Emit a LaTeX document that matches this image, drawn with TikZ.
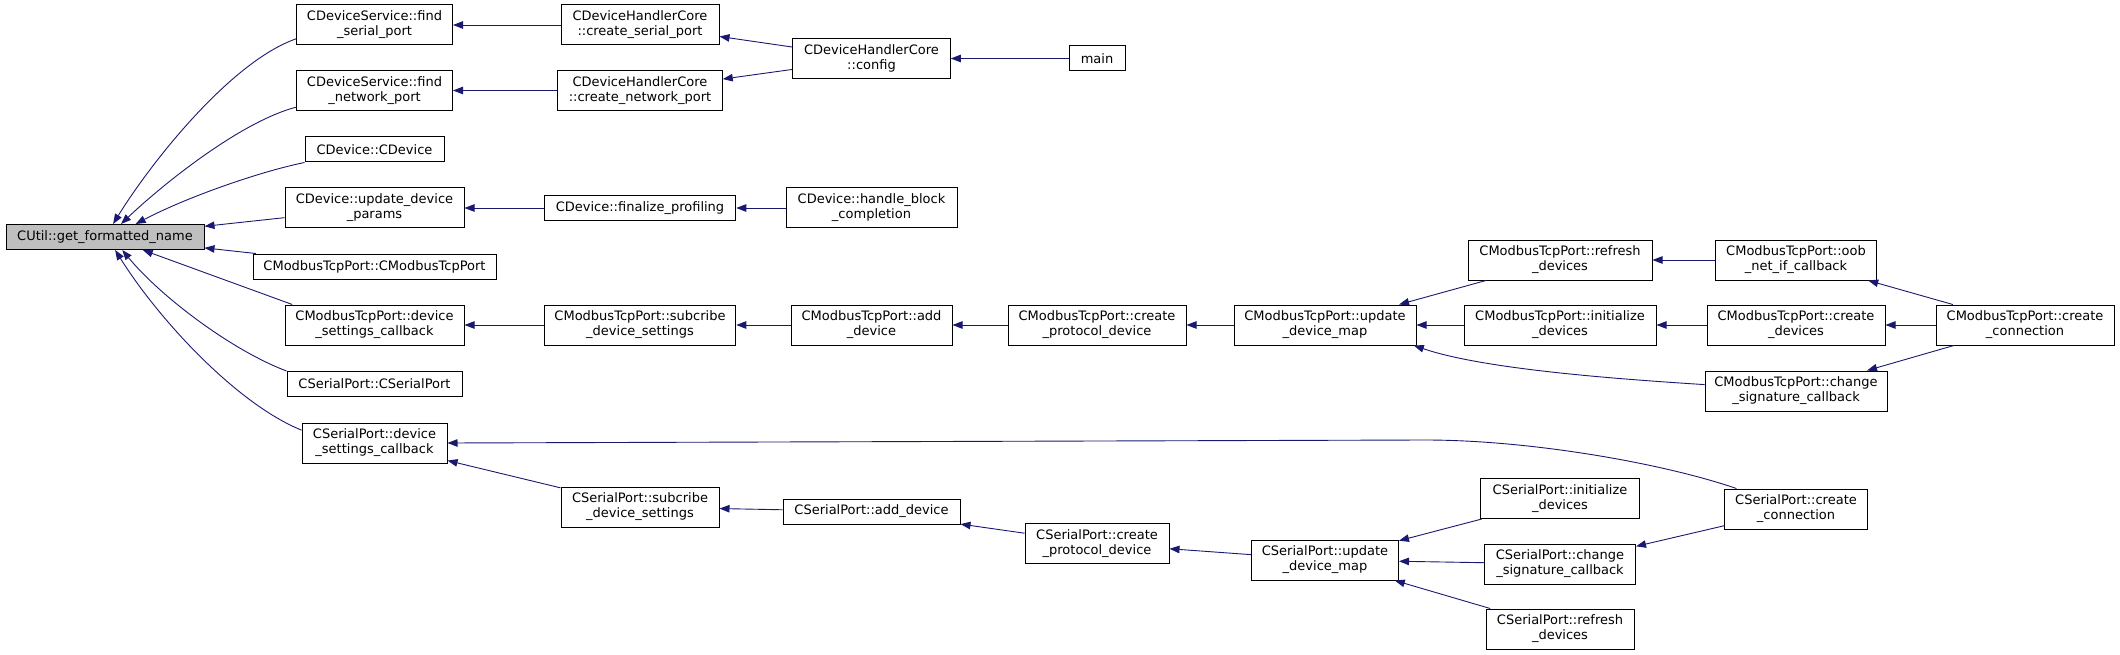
\documentclass[tikz,border=0pt]{standalone}
\usepackage{fontspec}
\setmainfont{DejaVu Sans}
\usetikzlibrary{arrows.meta}
\definecolor{edgeblue}{HTML}{191970}
\tikzstyle{func} = [rectangle, draw=black, line width=1pt, fill=white, minimum height=25pt, inner xsep=4pt, inner ysep=2pt, text centered, align=center, font=\fontsize{13}{15}\selectfont]
\tikzstyle{func2} = [func, minimum height=40pt]
\tikzstyle{focus} = [func, fill=gray!50]
\tikzstyle{arrow} = [draw=edgeblue, line width=0.9pt, -{Triangle[length=10pt,width=7.5pt]}]

\begin{document}
\begin{tikzpicture}[x=1pt, y=-1pt]
        \useasboundingbox (0,0) rectangle (2120,655);

        \node[focus, minimum width=198pt]   (cutil) at (105,237)    {CUtil::get\_formatted\_name};

        \node[func2, minimum width=156pt]   (fsp)   at (374.5,25)   {CDeviceService::find\\\_serial\_port};
        \node[func2, minimum width=156pt]   (fnp)   at (374.5,90.5) {CDeviceService::find\\\_network\_port};
        \node[func,  minimum width=139pt]   (cdev)  at (374.5,149.5){CDevice::CDevice};
        \node[func2, minimum width=179pt]   (udp)   at (374.5,208)  {CDevice::update\_device\\\_params};
        \node[func,  minimum width=243pt]   (mctor) at (374.5,266.5){CModbusTcpPort::CModbusTcpPort};
        \node[func2, minimum width=179pt]   (mdsc)  at (374.5,325)  {CModbusTcpPort::device\\\_settings\_callback};
        \node[func,  minimum width=175pt]   (sctor) at (374.5,384)  {CSerialPort::CSerialPort};
        \node[func2, minimum width=145pt]   (sdsc)  at (374.5,443)  {CSerialPort::device\\\_settings\_callback};

        \node[func2, minimum width=158pt]   (csp)   at (640,25)     {CDeviceHandlerCore\\::create\_serial\_port};
        \node[func2, minimum width=164.5pt] (cnp)   at (640,90.5)   {CDeviceHandlerCore\\::create\_network\_port};
        \node[func,  minimum width=191.5pt] (fin)   at (640,208)    {CDevice::finalize\_profiling};
        \node[func2, minimum width=191.5pt] (msub)  at (640,325)    {CModbusTcpPort::subcribe\\\_device\_settings};
        \node[func2, minimum width=158pt]   (ssub)  at (640,507)    {CSerialPort::subcribe\\\_device\_settings};

        \node[func2, minimum width=157.5pt] (config) at (871.5,58.5){CDeviceHandlerCore\\::config};
        \node[func2, minimum width=171pt]   (hbc)   at (871.5,208)  {CDevice::handle\_block\\\_completion};
        \node[func2, minimum width=161pt]   (madd)  at (871.5,325)  {CModbusTcpPort::add\\\_device};
        \node[func,  minimum width=177pt]   (sadd)  at (871.5,511.5){CSerialPort::add\_device};

        \node[func,  minimum width=56pt]    (main)  at (1097,58.5)  {main};
        \node[func2, minimum width=178pt]   (mcpd)  at (1097,325)   {CModbusTcpPort::create\\\_protocol\_device};
        \node[func2, minimum width=144pt]   (scpd)  at (1097,543.5) {CSerialPort::create\\\_protocol\_device};

        \node[func2, minimum width=182pt]   (mudm)  at (1325,325)   {CModbusTcpPort::update\\\_device\_map};
        \node[func2, minimum width=147pt]   (sudm)  at (1325,560)   {CSerialPort::update\\\_device\_map};

        \node[func2, minimum width=184pt]   (mref)  at (1560,260)   {CModbusTcpPort::refresh\\\_devices};
        \node[func2, minimum width=192pt]   (minit) at (1560,325)   {CModbusTcpPort::initialize\\\_devices};
        \node[func2, minimum width=158.5pt] (sinit) at (1560,498.5) {CSerialPort::initialize\\\_devices};
        \node[func2, minimum width=151pt]   (schg)  at (1560,564)   {CSerialPort::change\\\_signature\_callback};
        \node[func2, minimum width=148pt]   (sref)  at (1560,629)   {CSerialPort::refresh\\\_devices};

        \node[func2, minimum width=160.5pt] (moob)  at (1796,260)   {CModbusTcpPort::oob\\\_net\_if\_callback};
        \node[func2, minimum width=178pt]   (mcdev) at (1796,325)   {CModbusTcpPort::create\\\_devices};
        \node[func2, minimum width=182pt]   (mchg)  at (1796,391)   {CModbusTcpPort::change\\\_signature\_callback};
        \node[func2, minimum width=143pt]   (scc)   at (1796,509)   {CSerialPort::create\\\_connection};

        \node[func2, minimum width=178pt]   (mcc)   at (2025,325)   {CModbusTcpPort::create\\\_connection};

        \coordinate (bend) at (1425,440);

        \draw[arrow] (fsp.190) .. controls (230,62) and (150,164) .. (cutil.58);
        \draw[arrow] (fnp.192) .. controls (240,122) and (162,185) .. (cutil.39);
        \draw[arrow] (cdev.south west) .. controls (258,172) and (185,198) .. (cutil.23);
        \draw[arrow] (udp) -- (cutil);
        \draw[arrow] (mctor) -- (cutil);
        \draw[arrow] (mdsc.166) -- (cutil.341);
        \draw[arrow] (sctor.north west) .. controls (231,350) and (160,296) .. (cutil.323);
        \draw[arrow] (sdsc.170) .. controls (237,404) and (159,320) .. (cutil.308);

        \draw[arrow] (csp)    -- (fsp);
        \draw[arrow] (cnp)    -- (fnp);
        \draw[arrow] (config) -- (csp);
        \draw[arrow] (config) -- (cnp);
        \draw[arrow] (main)   -- (config);
        \draw[arrow] (fin)    -- (udp);
        \draw[arrow] (hbc)    -- (fin);

        \draw[arrow] (msub)  -- (mdsc);
        \draw[arrow] (madd)  -- (msub);
        \draw[arrow] (mcpd)  -- (madd);
        \draw[arrow] (mudm)  -- (mcpd);
        \draw[arrow] (mref)  -- (mudm);
        \draw[arrow] (minit) -- (mudm);
        \draw[arrow] (mchg.176) .. controls (1600,378) and (1480,368) .. (mudm.347);
        \draw[arrow] (moob)  -- (mref);
        \draw[arrow] (mcdev) -- (minit);
        \draw[arrow] (mcc)   -- (moob);
        \draw[arrow] (mcc)   -- (mcdev);
        \draw[arrow] (mcc)   -- (mchg);

        \draw[arrow] (ssub)  -- (sdsc);
        \draw[arrow] (sadd)  -- (ssub);
        \draw[arrow] (scpd)  -- (sadd);
        \draw[arrow] (sudm)  -- (scpd);
        \draw[arrow] (sinit) -- (sudm);
        \draw[arrow] (schg)  -- (sudm);
        \draw[arrow] (sref)  -- (sudm);
        \draw[arrow] (scc)   -- (schg);
        \draw[arrow] (scc.161) .. controls (1662,463) and (1530,440) .. (bend) -- (sdsc.east);
\end{tikzpicture}
\end{document}
